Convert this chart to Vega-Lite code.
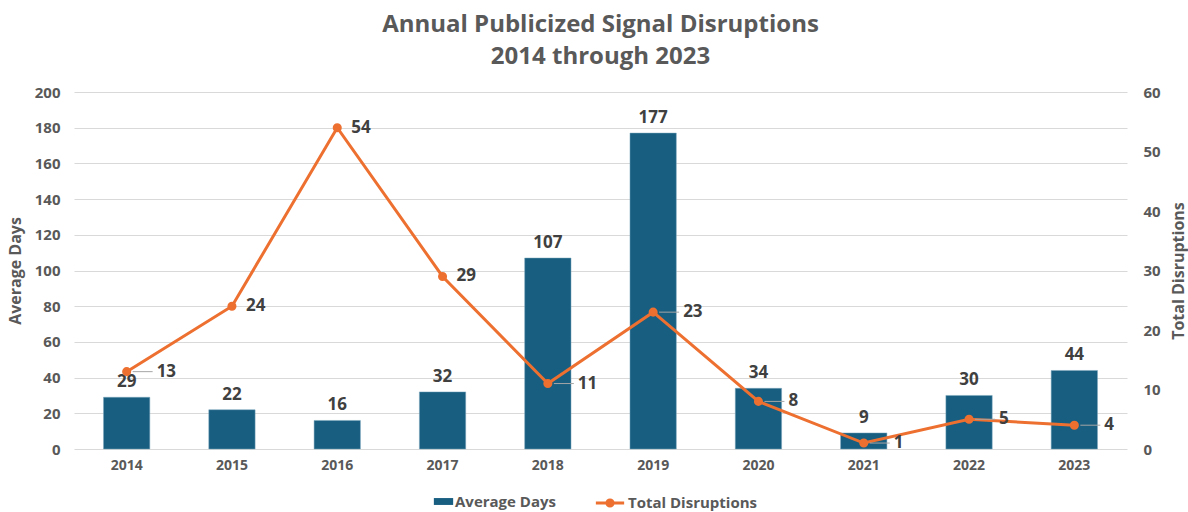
{
  "$schema": "https://vega.github.io/schema/vega-lite/v6.json",
  "width": 1053,
  "height": 357,
  "autosize": "none",
  "padding": {"left": 74, "top": 92, "right": 61, "bottom": 63},
  "background": "white",
  "config": {
    "font": "Open Sans",
    "view": {"stroke": null},
    "axis": {"labelFont": "Open Sans", "titleFont": "Open Sans", "labelFontWeight": "bold", "labelColor": "#595959", "labelFontSize": 15, "titleColor": "#595959", "titleFontSize": 16, "titleFontWeight": "bold", "domain": false, "ticks": false}
  },
  "title": {
    "text": ["Annual Publicized Signal Disruptions", "2014 through 2023"],
    "fontSize": 24,
    "fontWeight": "bold",
    "color": "#595959",
    "anchor": "middle",
    "frame": "group",
    "lineHeight": 32,
    "offset": 16
  },
  "data": {
    "values": [
      {"year": "2014", "days": 29, "disruptions": 13, "leader": true},
      {"year": "2015", "days": 22, "disruptions": 24, "leader": false},
      {"year": "2016", "days": 16, "disruptions": 54, "leader": false},
      {"year": "2017", "days": 32, "disruptions": 29, "leader": false},
      {"year": "2018", "days": 107, "disruptions": 11, "leader": true},
      {"year": "2019", "days": 177, "disruptions": 23, "leader": true},
      {"year": "2020", "days": 34, "disruptions": 8, "leader": true},
      {"year": "2021", "days": 9, "disruptions": 1, "leader": true},
      {"year": "2022", "days": 30, "disruptions": 5, "leader": true},
      {"year": "2023", "days": 44, "disruptions": 4, "leader": true}
    ]
  },
  "encoding": {
    "x": {
      "field": "year",
      "type": "nominal",
      "scale": {"paddingInner": 0.56, "paddingOuter": 0.28},
      "axis": {"title": null, "labelAngle": 0, "labelPadding": 9, "labelFontSize": 14}
    }
  },
  "layer": [
    {
      "encoding": {
        "y": {
          "field": "days",
          "type": "quantitative",
          "scale": {"domain": [0, 200]},
          "axis": {"values": [0, 20, 40, 60, 80, 100, 120, 140, 160, 180, 200], "title": "Average Days", "titlePadding": 11, "labelPadding": 14, "gridColor": "#d9d9d9", "gridWidth": 1}
        }
      },
      "layer": [
        {
          "mark": {"type": "bar", "color": "#175e80", "stroke": "#7fa9bf", "strokeWidth": 0.5},
          "encoding": {
            "fill": {"datum": "Average Days", "type": "nominal", "scale": {"range": ["#175e80"]}, "legend": {"orient": "none", "legendX": 362, "legendY": 402, "title": null, "symbolType": "M-1.4,-0.5H1.4V0.5H-1.4Z", "symbolSize": 190, "symbolStrokeWidth": 0, "labelFontSize": 15, "labelFontWeight": "bold", "labelColor": "#595959", "labelFont": "Open Sans", "labelOffset": 4}}
          }
        },
        {
          "mark": {"type": "text", "baseline": "bottom", "dy": -6, "fontSize": 17, "fontWeight": "bold", "color": "#404040"},
          "encoding": {"text": {"field": "days", "type": "quantitative"}}
        }
      ]
    },
    {
      "encoding": {
        "y": {
          "field": "disruptions",
          "type": "quantitative",
          "scale": {"domain": [0, 60]},
          "axis": {"orient": "right", "values": [0, 10, 20, 30, 40, 50, 60], "grid": false, "title": "Total Disruptions", "titleAngle": -90, "titleBaseline": "top", "titlePadding": 10, "labelPadding": 16}
        }
      },
      "layer": [
        {
          "mark": {"type": "line", "color": "#ed7030", "strokeWidth": 3, "point": {"filled": true, "size": 50, "color": "#ed7030"}},
          "encoding": {
            "stroke": {"datum": "Total Disruptions", "type": "nominal", "scale": {"range": ["#ed7030"]}, "legend": {"orient": "none", "legendX": 520, "legendY": 395, "title": null, "symbolType": "M-1,0H1M-0.22,0A0.22,0.22 0 1,1 0.22,0A0.22,0.22 0 1,1 -0.22,0Z", "symbolSize": 800, "symbolStrokeWidth": 3, "symbolFillColor": "#ed7030", "labelFontSize": 15, "labelFontWeight": "bold", "labelColor": "#595959", "labelFont": "Open Sans", "labelOffset": 2}}
          }
        },
        {
          "transform": [{"filter": "datum.leader"}],
          "mark": {"type": "rule", "color": "#a6a6a6", "strokeWidth": 1, "xOffset": 6, "x2Offset": 26},
          "encoding": {"x2": {"field": "year"}}
        },
        {
          "transform": [{"filter": "datum.leader"}],
          "mark": {"type": "text", "align": "left", "baseline": "middle", "dx": 30, "fontSize": 17, "fontWeight": "bold", "color": "#404040"},
          "encoding": {"text": {"field": "disruptions", "type": "quantitative"}}
        },
        {
          "transform": [{"filter": "!datum.leader"}],
          "mark": {"type": "text", "align": "left", "baseline": "middle", "dx": 14, "fontSize": 17, "fontWeight": "bold", "color": "#404040"},
          "encoding": {"text": {"field": "disruptions", "type": "quantitative"}}
        }
      ]
    }
  ],
  "resolve": {"scale": {"y": "independent", "fill": "independent", "stroke": "independent"}}
}
